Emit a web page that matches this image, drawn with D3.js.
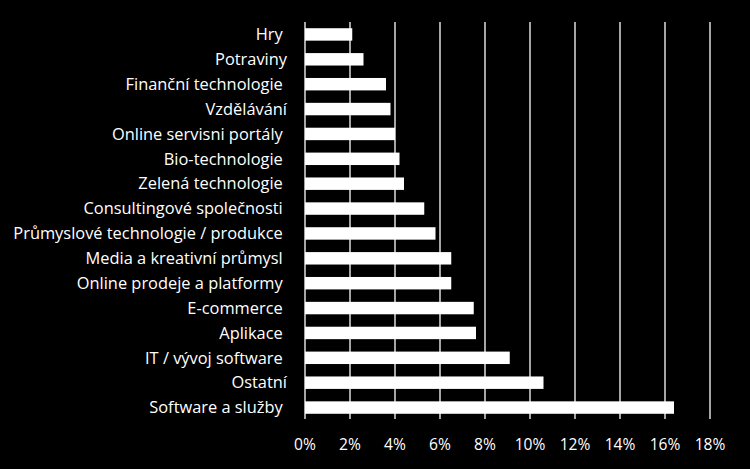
<!DOCTYPE html>
<html><head><meta charset="utf-8">
<script src="https://cdn.jsdelivr.net/npm/d3@7"></script>
<style>
html,body{margin:0;padding:0;background:#000;}
svg{display:block;}
text{white-space:pre;}
</style></head>
<body>
<script>
const categories = ["Hry ","Potraviny","Finanční technologie ","Vzdělávání","Online servisni portály ","Bio-technologie ","Zelená technologie ","Consultingové společnosti ","Průmyslové technologie / produkce ","Media a kreativní průmysl ","Online prodeje a platformy ","E-commerce ","Aplikace ","IT / vývoj software ","Ostatní","Software a služby "];
const values = [2.1,2.6,3.6,3.8,4.0,4.2,4.4,5.3,5.8,6.5,6.5,7.5,7.6,9.1,10.6,16.4];
const tickValues = [0,2,4,6,8,10,12,14,16,18];
const tickLabels = ["0%","2%","4%","6%","8%","10%","12%","14%","16%","18%"];

const W=750,H=469;
const svg=d3.select("body").append("svg").attr("width",W).attr("height",H).style("background","#000");
const x=d3.scaleLinear().domain([0,18]).range([305,710]);
const y=d3.scaleBand().domain(categories).range([22,420]).paddingInner(0.5).paddingOuter(0.25);

// gridlines
svg.append("g").selectAll("line").data(tickValues).join("line")
  .attr("x1",d=>x(d)).attr("x2",d=>x(d)).attr("y1",22).attr("y2",419)
  .attr("stroke","#fff").attr("stroke-width",1.3);

// bars
svg.append("g").selectAll("rect").data(values).join("rect")
  .attr("x",x(0)).attr("y",(d,i)=>y(categories[i]))
  .attr("width",d=>x(d)-x(0)).attr("height",y.bandwidth())
  .attr("fill","#fff");

// category labels
svg.append("g").selectAll("text").data(categories).join("text")
  .attr("x",287).attr("y",d=>y(d)+y.bandwidth()/2).attr("dy","0.35em")
  .attr("text-anchor","end").attr("fill","#fff")
  .style("font-family","'Open Sans', sans-serif").style("font-size","16.4px")
  .text(d=>d);

// x tick labels
svg.append("g").selectAll("text").data(tickValues).join("text")
  .attr("x",d=>x(d)).attr("y",445).attr("dy","0.35em")
  .attr("text-anchor","middle").attr("fill","#fff")
  .style("font-family","'Open Sans', sans-serif").style("font-size","15.6px")
  .text((d,i)=>tickLabels[i]);
</script>
</body></html>
